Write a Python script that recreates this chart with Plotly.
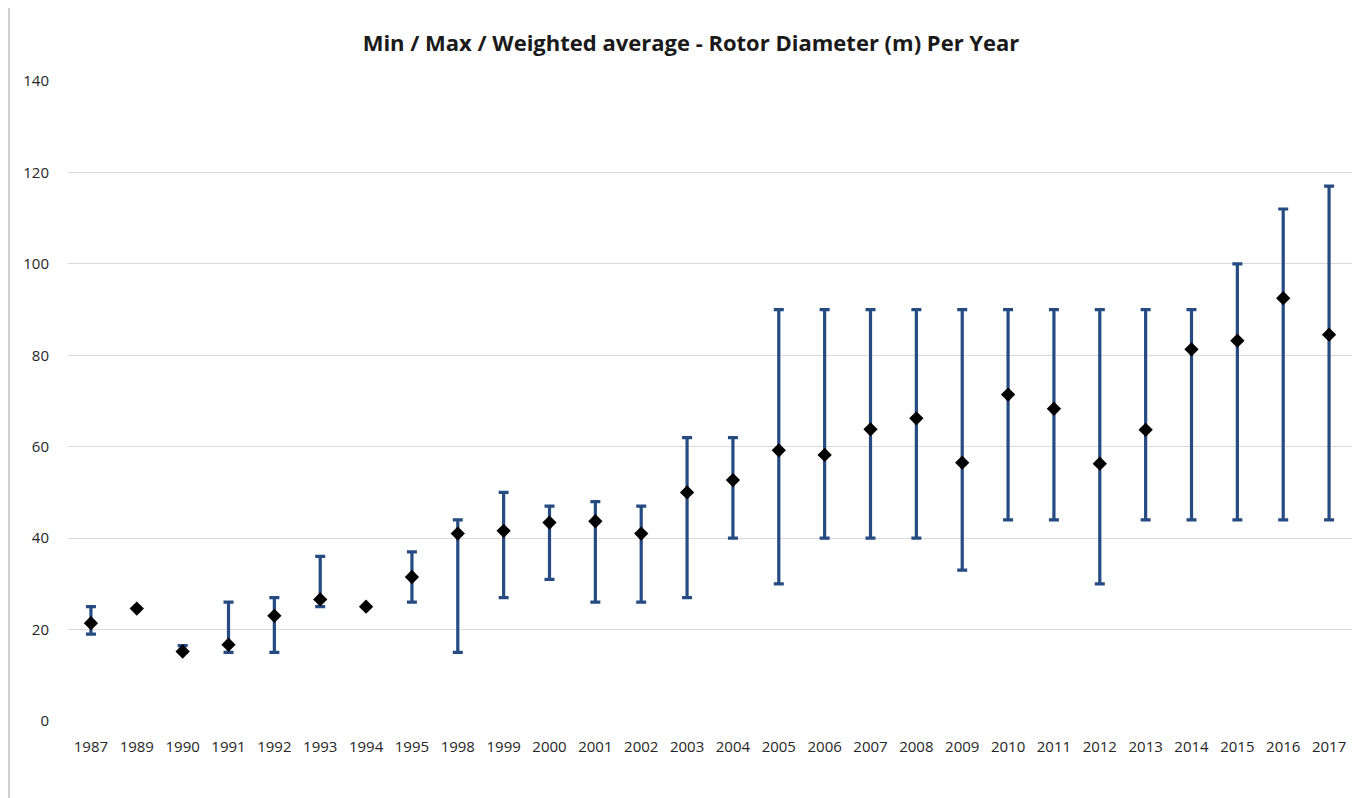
import plotly.graph_objects as go

years = ["1987", "1989", "1990", "1991", "1992", "1993", "1994", "1995", "1998", "1999",
         "2000", "2001", "2002", "2003", "2004", "2005", "2006", "2007", "2008", "2009",
         "2010", "2011", "2012", "2013", "2014", "2015", "2016", "2017"]
avg_vals = [21.4, 24.6, 15.2, 16.7, 23.0, 26.6, 25.0, 31.5, 41.0, 41.6,
            43.4, 43.7, 41.0, 50.0, 52.7, 59.2, 58.2, 63.8, 66.2, 56.5,
            71.4, 68.3, 56.3, 63.7, 81.3, 83.2, 92.5, 84.5]
max_vals = [25, 24.6, 16.5, 26, 27, 36, 25.0, 37, 44, 50,
            47, 48, 47, 62, 62, 90, 90, 90, 90, 90,
            90, 90, 90, 90, 90, 100, 112, 117]
min_vals = [19, 24.6, 15, 15, 15, 25, 25.0, 26, 15, 27,
            31, 26, 26, 27, 40, 30, 40, 40, 40, 33,
            44, 44, 30, 44, 44, 44, 44, 44]

err_plus = [mx - a for mx, a in zip(max_vals, avg_vals)]
err_minus = [a - mn for a, mn in zip(avg_vals, min_vals)]

W, H = 1355, 790
ML, MR, MT, MB = 60, 11, 73, 77
PW = W - ML - MR
PH = H - MT - MB

fig = go.Figure()
fig.add_trace(go.Scatter(
    x=years, y=avg_vals, mode="markers",
    marker=dict(symbol="diamond", size=11, color="black"),
    error_y=dict(type="data", symmetric=False, array=err_plus, arrayminus=err_minus,
                 color="#264B82", thickness=3.2, width=5),
    showlegend=False,
))

fig.update_layout(
    width=W, height=H,
    paper_bgcolor="white", plot_bgcolor="white",
    margin=dict(l=ML, r=MR, t=MT, b=MB, autoexpand=False),
    title=dict(text="<b>Min / Max / Weighted average - Rotor Diameter (m) Per Year</b>",
               x=683 / W, xanchor="center", y=1 - 35 / H, yanchor="middle",
               font=dict(family="Open Sans", size=22, color="#1a1a1a")),
    font=dict(family="Open Sans", size=15, color="#262626"),
    xaxis=dict(type="category", range=[-0.5, len(years) - 0.5], showgrid=False,
               showline=False, ticks="outside", ticklen=12, tickcolor="rgba(0,0,0,0)",
               automargin=False, tickfont=dict(size=15, color="#262626")),
    yaxis=dict(range=[0, 140], dtick=20, showgrid=True, gridcolor="#d9d9d9", gridwidth=1,
               zeroline=False, showline=False, ticks="outside", ticklen=15,
               tickcolor="rgba(0,0,0,0)", automargin=False,
               tickfont=dict(size=15, color="#262626")),
    shapes=[dict(type="line", xref="paper", yref="paper",
                 x0=-(ML - 1) / PW, x1=-(ML - 1) / PW, y0=-MB / PH, y1=1 + MT / PH,
                 line=dict(color="#bfbfbf", width=1.5))],
)

fig.write_html("out.html")
